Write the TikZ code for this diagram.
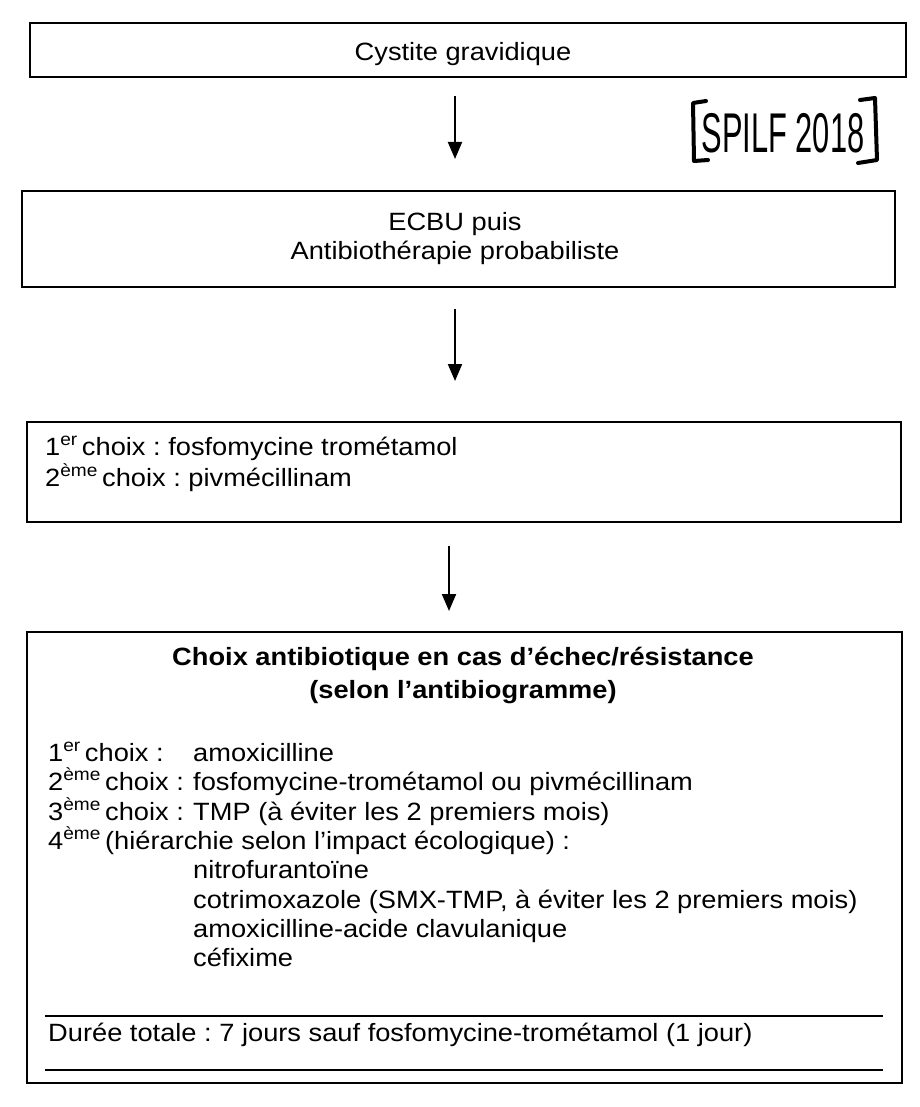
\documentclass[tikz,border=0pt]{standalone}
\usepackage{fontspec}
\setmainfont{Liberation Sans}[FakeStretch=1.09]
\newfontfamily\handfont{Liberation Sans}[FakeStretch=0.55]
\usetikzlibrary{arrows.meta}
\frenchspacing
\tikzset{
  boxst/.style={draw, line width=2pt, inner sep=0pt, minimum width=#1},
  txt/.style={inner sep=0pt, anchor=base west, font=\fontsize{25}{28}\selectfont},
  ctxt/.style={inner sep=0pt, anchor=base, font=\fontsize{25}{28}\selectfont},
  btxt/.style={inner sep=0pt, anchor=base, font=\fontsize{25}{28}\selectfont\bfseries},
  arr/.style={line width=2pt, -{Triangle[length=17pt,width=14pt]}},
  rule/.style={line width=2.5pt},
  brk/.style={line width=4pt, line cap=round, line join=round},
}
\begin{document}
\begin{tikzpicture}[x=1pt,y=-1pt]
\useasboundingbox[fill=white] (0,0) rectangle (919,1107);
% boxes
\node[boxst=876pt, minimum height=54pt] (b1) at (468,50) {};
\node[boxst=873pt, minimum height=96pt] (b2) at (458.5,239) {};
\node[boxst=874pt, minimum height=100pt] (b3) at (464,472) {};
\node[boxst=875pt, minimum height=451pt] (b4) at (464.5,857.5) {};
% texts
\node[ctxt] (t1) at (463,61) {Cystite gravidique};
\node[ctxt] (t2a) at (455,231) {ECBU puis};
\node[ctxt] (t2b) at (455,259) {Antibiothérapie probabiliste};
\node[txt] (t3a) at (45,455) {1\textsuperscript{er}\,choix : fosfomycine trométamol};
\node[txt] (t3b) at (45,486) {2\textsuperscript{ème}\,choix : pivmécillinam};
\node[btxt] (t4a) at (463,665) {Choix antibiotique en cas d’échec/résistance};
\node[btxt] (t4b) at (463,698) {(selon l’antibiogramme)};
\node[txt] (l1a) at (48,761) {1\textsuperscript{er}\,choix :};
\node[txt] (l1b) at (193,761) {amoxicilline};
\node[txt] (l2a) at (48,790) {2\textsuperscript{ème}\,choix :};
\node[txt] (l2b) at (193,790) {fosfomycine-trométamol ou pivmécillinam};
\node[txt] (l3a) at (48,820) {3\textsuperscript{ème}\,choix :};
\node[txt] (l3b) at (193,820) {TMP (à éviter les 2 premiers mois)};
\node[txt] (l4a) at (48,849) {4\textsuperscript{ème}\,(hiérarchie selon l’impact écologique) :};
\node[txt] (l5) at (193,878) {nitrofurantoïne};
\node[txt] (l6) at (193,908) {cotrimoxazole (SMX-TMP, à éviter les 2 premiers mois)};
\node[txt] (l7) at (193,937) {amoxicilline-acide clavulanique};
\node[txt] (l8) at (193,966) {céfixime};
\coordinate (r1w) at (45,1016);
\coordinate (r1e) at (883,1016);
\coordinate (r2w) at (45,1070);
\coordinate (r2e) at (883,1070);
\draw[rule] (r1w) -- (r1e);
\draw[rule] (r2w) -- (r2e);
\node[txt] (dur) at (48,1041) {Durée totale : 7 jours sauf fosfomycine-trométamol (1 jour)};
% arrows
\coordinate (ax1) at (455,0);
\coordinate (ax3) at (449,0);
\draw[arr, shorten <=18pt, shorten >=31pt] (b1.south -| ax1) -- (b2.north -| ax1);
\draw[arr, shorten <=21pt, shorten >=40pt] (b2.south -| ax1) -- (b3.north -| ax1);
\draw[arr, shorten <=23pt, shorten >=20pt] (b3.south -| ax3) -- (b4.north -| ax3);
% handwritten reference
\node[inner sep=0pt, font=\handfont\fontsize{56}{60}\selectfont] (spilf) at (783,133) {SPILF 2018};
\coordinate (lb1) at (706,101);
\coordinate (lb2) at (693,103);
\coordinate (lb3) at (694,161);
\coordinate (lb4) at (708,160);
\coordinate (rb1) at (860,100);
\coordinate (rb2) at (875,98);
\coordinate (rb3) at (877,160);
\coordinate (rb4) at (858,163);
\draw[brk] (lb1) -- (lb2) -- (lb3) -- (lb4);
\draw[brk] (rb1) -- (rb2) -- (rb3) -- (rb4);
\end{tikzpicture}
\end{document}
